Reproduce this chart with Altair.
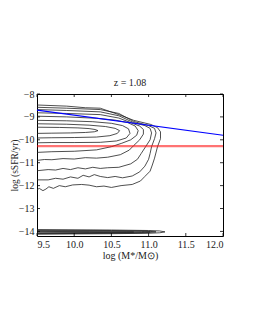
import altair as alt
import pandas as pd

# ---- values ----
x_ticks = [9.5, 10.0, 10.5, 11.0, 11.5, 12.0]
y_ticks = [-8, -9, -10, -11, -12, -13, -14]

blue_x = [9.5, 12.0]
blue_y = [-8.7, -9.8]
red_x = [9.5, 12.0]
red_y = [-10.28, -10.28]

c1_x = [9.5, 9.8, 10.05, 10.2, 10.28, 10.32, 10.27, 10.15, 9.95, 9.7, 9.5]
c1_y = [-9.45, -9.46, -9.48, -9.51, -9.55, -9.6, -9.65, -9.68, -9.7, -9.71, -9.72]

c2_x = [9.5, 9.9, 10.2, 10.42, 10.55, 10.61, 10.58, 10.48, 10.3, 10.0, 9.7, 9.5]
c2_y = [-9.3, -9.32, -9.36, -9.42, -9.5, -9.6, -9.72, -9.82, -9.88, -9.9, -9.91, -9.92]

c3_x = [9.5, 9.9, 10.25, 10.5, 10.65, 10.73, 10.75, 10.7, 10.57, 10.35, 10.0, 9.7, 9.5]
c3_y = [-9.15, -9.17, -9.21, -9.28, -9.38, -9.52, -9.72, -9.92, -10.05, -10.11, -10.12, -10.12, -10.13]

c4_x = [9.5, 9.9, 10.3, 10.55, 10.72, 10.82, 10.86, 10.84, 10.76, 10.64, 10.5, 10.3, 10.0, 9.7, 9.5]
c4_y = [-8.97, -9.0, -9.06, -9.14, -9.25, -9.4, -9.6, -9.8, -10.0, -10.15, -10.3, -10.44, -10.5, -10.52, -10.55]

c5_x = [9.5, 9.9, 10.35, 10.6, 10.8, 10.88, 10.93, 10.93, 10.88, 10.8, 10.74, 10.62, 10.45,
        10.3, 10.15, 10.0, 9.85, 9.7, 9.6, 9.5]
c5_y = [-8.82, -8.85, -8.9, -9.05, -9.3, -9.4, -9.55, -9.75, -10.0, -10.25, -10.45, -10.65, -10.76,
        -10.8, -10.78, -10.84, -10.82, -10.87, -10.86, -10.9]

c6_x = [9.5, 9.9, 10.35, 10.6, 10.8, 10.95, 11.02, 11.04, 11.02, 10.96, 10.9, 10.85, 10.76, 10.6,
        10.45, 10.35, 10.25, 10.15, 10.05, 9.95, 9.85, 9.75, 9.65, 9.5]
c6_y = [-8.68, -8.72, -8.78, -8.95, -9.25, -9.38, -9.5, -9.7, -10.0, -10.3, -10.6, -10.85, -11.05, -11.2,
        -11.22, -11.25, -11.2, -11.27, -11.22, -11.3, -11.25, -11.32, -11.3, -11.35]

c7_x = [9.5, 9.9, 10.35, 10.6, 10.8, 11.0, 11.08, 11.1, 11.08, 11.04, 11.02, 11.0, 10.95, 10.88,
        10.78, 10.65, 10.55, 10.45, 10.35, 10.27, 10.2, 10.12, 10.05, 9.95, 9.85, 9.75, 9.65, 9.5]
c7_y = [-8.58, -8.62, -8.68, -8.85, -9.2, -9.38, -9.5, -9.7, -9.95, -10.3, -10.6, -10.85, -11.15, -11.4,
        -11.58, -11.66, -11.6, -11.65, -11.6, -11.52, -11.62, -11.55, -11.68, -11.62, -11.72, -11.68,
        -11.75, -11.75]

c8_x = [9.5, 9.9, 10.15, 10.35, 10.6, 10.8, 11.03, 11.12, 11.16, 11.16, 11.12, 11.08, 11.05, 11.02,
        10.95, 10.89, 10.78, 10.63, 10.5, 10.4, 10.3, 10.2, 10.1, 9.98, 9.88, 9.8, 9.72, 9.66, 9.62,
        9.58, 9.53, 9.5]
c8_y = [-8.48, -8.53, -8.6, -8.62, -8.9, -9.15, -9.33, -9.47, -9.65, -9.95, -10.3, -10.8, -11.1, -11.37,
        -11.6, -11.8, -11.95, -12.0, -12.08, -12.02, -12.05, -11.98, -11.95, -11.97, -12.05, -12.0,
        -12.12, -12.05, -12.15, -12.22, -12.12, -12.18]

b1_x = [9.5, 10.5, 11.0, 11.15, 11.22, 11.15, 11.0, 10.5, 9.5]
b1_y = [-13.92, -13.94, -13.96, -13.98, -14.02, -14.06, -14.08, -14.1, -14.12]
b2_x = [9.5, 10.5, 10.95, 11.1, 10.95, 10.5, 9.5]
b2_y = [-13.95, -13.96, -13.98, -14.02, -14.06, -14.08, -14.1]
b3_x = [9.5, 10.4, 10.9, 11.02, 10.9, 10.4, 9.5]
b3_y = [-13.98, -13.99, -14.0, -14.02, -14.05, -14.06, -14.08]
b4_x = [9.5, 10.2, 10.7, 10.8, 10.7, 10.2, 9.5]
b4_y = [-14.0, -14.01, -14.02, -14.03, -14.04, -14.05, -14.06]

# ---- tables ----
contours = [c1_x, c1_y, c2_x, c2_y, c3_x, c3_y, c4_x, c4_y, c5_x, c5_y, c6_x, c6_y,
            c7_x, c7_y, c8_x, c8_y, b1_x, b1_y, b2_x, b2_y, b3_x, b3_y, b4_x, b4_y]
rows = []
for k in range(0, len(contours), 2):
    xs, ys = contours[k], contours[k + 1]
    for i, (xv, yv) in enumerate(zip(xs, ys)):
        rows.append({"id": k // 2, "o": i, "x": xv, "y": yv})
cdf = pd.DataFrame(rows)

blue_df = pd.DataFrame({"x": blue_x, "y": blue_y})
red_df = pd.DataFrame({"x": red_x, "y": red_y})
xt_df = pd.DataFrame({"x": x_ticks})
yt_df = pd.DataFrame({"y": y_ticks})

FONT = "Liberation Serif"
W, H = 186, 142

x_enc = alt.X("x:Q",
              scale=alt.Scale(domain=[9.5, 12.0], nice=False, zero=False),
              axis=alt.Axis(values=x_ticks, format=".1f", ticks=False, domain=False, grid=False,
                            labelFont=FONT, labelFontSize=10, labelColor="#222222", labelPadding=3,
                            title="log (M*/M\u2299)", titleFont=FONT, titleFontSize=10,
                            titleFontWeight="normal", titleColor="#222222", titlePadding=1))
y_enc = alt.Y("y:Q",
              scale=alt.Scale(domain=[-14.2, -8.0], nice=False, zero=False),
              axis=alt.Axis(values=y_ticks, format="d", ticks=False, domain=False, grid=False,
                            labelFont=FONT, labelFontSize=10, labelColor="#222222", labelPadding=3,
                            title="log (sSFR/yr)", titleFont=FONT, titleFontSize=9.5,
                            titleFontWeight="normal", titleColor="#222222",
                            titleX=-23, titleY=H / 2, titleAngle=270,
                            titleAlign="center", titleBaseline="middle"))

lines = alt.Chart(cdf).mark_line(color="#222222", strokeWidth=0.8).encode(
    x=x_enc, y=y_enc, detail="id:N", order="o:Q")
blue = alt.Chart(blue_df).mark_line(color="#0000ff", strokeWidth=1.2).encode(x=x_enc, y=y_enc)
red = alt.Chart(red_df).mark_line(color="#ff0000", strokeWidth=2.2, opacity=0.55).encode(x=x_enc, y=y_enc)

tick_len = 3
tb = alt.Chart(xt_df).mark_rule(color="black", strokeWidth=0.8).encode(
    x=x_enc, y=alt.value(H), y2=alt.value(H - tick_len))
tt = alt.Chart(xt_df).mark_rule(color="black", strokeWidth=0.8).encode(
    x=x_enc, y=alt.value(0), y2=alt.value(tick_len))
tl = alt.Chart(yt_df).mark_rule(color="black", strokeWidth=0.8).encode(
    y=y_enc, x=alt.value(0), x2=alt.value(tick_len))
tr = alt.Chart(yt_df).mark_rule(color="black", strokeWidth=0.8).encode(
    y=y_enc, x=alt.value(W), x2=alt.value(W - tick_len))

chart = alt.layer(lines, blue, red, tb, tt, tl, tr).properties(
    width=W, height=H,
    title=alt.TitleParams("z = 1.08", font=FONT, fontSize=10, fontWeight="normal",
                          color="#222222", offset=1),
    autosize=alt.AutoSizeParams(type="none"),
    padding={"left": 29, "top": 86, "right": 24, "bottom": 86},
    background="white",
).configure_view(stroke="black", strokeWidth=1)

chart.save("out.html", embed_options={"renderer": "svg", "actions": False})
